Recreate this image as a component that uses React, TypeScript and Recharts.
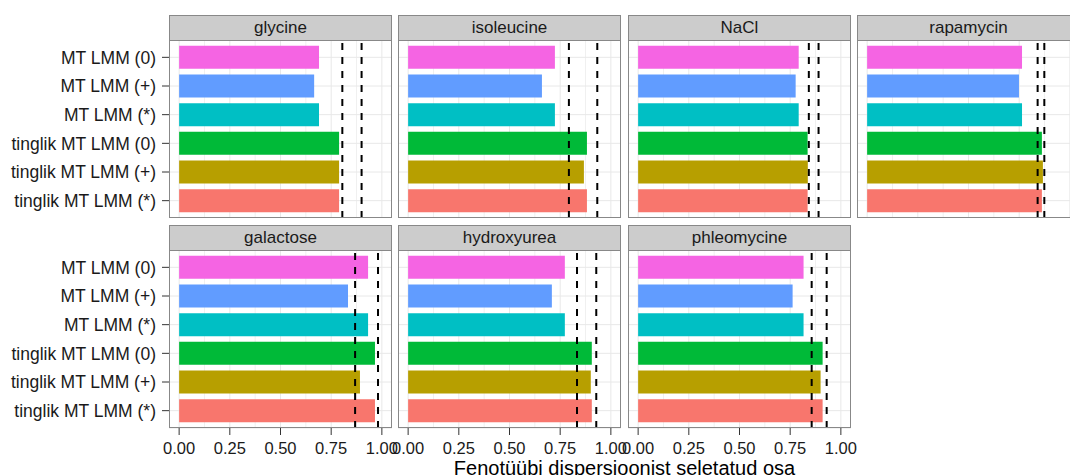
import React from "react";
import { BarChart, Bar, XAxis, YAxis, CartesianGrid, ReferenceLine, Cell } from "recharts";

// model names, top to bottom as drawn in each panel
const models = [
  "MT LMM (0)",
  "MT LMM (+)",
  "MT LMM (*)",
  "tinglik MT LMM (0)",
  "tinglik MT LMM (+)",
  "tinglik MT LMM (*)",
];

// explained share of phenotype variance, same order as models
const glycine = [0.69, 0.666, 0.69, 0.789, 0.789, 0.789];
const isoleucine = [0.724, 0.66, 0.724, 0.882, 0.867, 0.882];
const nacl = [0.792, 0.777, 0.792, 0.836, 0.837, 0.836];
const rapamycin = [0.764, 0.749, 0.764, 0.862, 0.867, 0.862];
const galactose = [0.932, 0.833, 0.932, 0.966, 0.892, 0.966];
const hydroxyurea = [0.773, 0.709, 0.773, 0.906, 0.901, 0.906];
const phleomycine = [0.816, 0.762, 0.816, 0.91, 0.9, 0.91];

// dashed reference levels per condition
const glycineCuts = [0.805, 0.9];
const isoleucineCuts = [0.793, 0.933];
const naclCuts = [0.842, 0.89];
const rapamycinCuts = [0.841, 0.874];
const galactoseCuts = [0.868, 0.981];
const hydroxyureaCuts = [0.833, 0.928];
const phleomycineCuts = [0.856, 0.93];

const xTicks = [0, 0.25, 0.5, 0.75, 1];
const xMinorTicks = [0.125, 0.375, 0.625, 0.875];

const barColors = ["#F564E3", "#619CFF", "#00BFC4", "#00BA38", "#B79F00", "#F8766D"];

const FONT = '"Liberation Sans", Arial, Helvetica, sans-serif';
const PANEL_W = 223;
const PANEL_H = 178;
const STRIP_H = 25;
const Y_AXIS_W = 169;
const colLeft = [169, 398, 628, 857];
const rowTop = [15, 225];

const facets = [
  { name: "glycine", values: glycine, cuts: glycineCuts },
  { name: "isoleucine", values: isoleucine, cuts: isoleucineCuts },
  { name: "NaCl", values: nacl, cuts: naclCuts },
  { name: "rapamycin", values: rapamycin, cuts: rapamycinCuts },
  { name: "galactose", values: galactose, cuts: galactoseCuts },
  { name: "hydroxyurea", values: hydroxyurea, cuts: hydroxyureaCuts },
  { name: "phleomycine", values: phleomycine, cuts: phleomycineCuts },
];

interface PanelProps {
  name: string;
  values: number[];
  cuts: number[];
  col: number;
  row: number;
  showY: boolean;
  showX: boolean;
}

function Panel({ name, values, cuts, col, row, showY, showX }: PanelProps) {
  const data = models.map((m, i) => ({ model: m, value: values[i] }));
  // room for tick labels that hang over the panel edges
  const extraRight = showX ? 22 : 0;
  const extraLeft = showX && !showY ? 22 : 0;
  const leftW = showY ? Y_AXIS_W : extraLeft;
  const chartLeft = colLeft[col] - leftW;
  const chartW = PANEL_W + leftW + extraRight;
  const chartH = PANEL_H + (showX ? 32 : 0);
  const top = rowTop[row];

  return (
    <>
      {/* strip */}
      <div
        style={{
          position: "absolute",
          left: colLeft[col],
          top,
          width: PANEL_W,
          height: STRIP_H + 1,
          boxSizing: "border-box",
          background: "#CCCCCC",
          border: "1px solid #888888",
          display: "flex",
          alignItems: "center",
          justifyContent: "center",
          fontSize: 17,
          color: "#1A1A1A",
        }}
      >
        {name}
      </div>

      <div style={{ position: "absolute", left: chartLeft, top: top + STRIP_H }}>
        <BarChart
          width={chartW}
          height={chartH}
          data={data}
          layout="vertical"
          margin={{ top: 0, right: extraRight, bottom: 0, left: extraLeft }}
          barCategoryGap="10%"
        >
          <CartesianGrid horizontal={false} verticalValues={xMinorTicks} stroke="#F0F0F0" strokeWidth={1} />
          <CartesianGrid vertical={false} stroke="#E8E8E8" strokeWidth={1} />
          <CartesianGrid horizontal={false} verticalValues={xTicks} stroke="#E8E8E8" strokeWidth={1} />
          <XAxis
            type="number"
            domain={[-0.05, 1.05]}
            allowDataOverflow
            ticks={xTicks}
            interval={0}
            tickFormatter={(v: number) => v.toFixed(2)}
            hide={!showX}
            height={32}
            axisLine={false}
            tickLine={{ stroke: "#333333" }}
            tickSize={7}
            tickMargin={7}
            tick={{ fontSize: 16.5, fill: "#1A1A1A", fontFamily: FONT }}
          />
          <YAxis
            type="category"
            dataKey="model"
            hide={!showY}
            width={Y_AXIS_W}
            padding={{ top: 3, bottom: 3 }}
            interval={0}
            axisLine={false}
            tickLine={{ stroke: "#333333" }}
            tickSize={7}
            tickMargin={6}
            tick={{ fontSize: 17.5, fill: "#1A1A1A", fontFamily: FONT }}
          />
          <Bar dataKey="value" isAnimationActive={false}>
            {data.map((d, i) => (
              <Cell key={d.model} fill={barColors[i]} />
            ))}
          </Bar>
          {cuts.map((c) => (
            <ReferenceLine
              key={c}
              x={c}
              stroke="#000000"
              strokeWidth={2}
              strokeDasharray="7 7"
            />
          ))}
        </BarChart>
      </div>

      {/* panel border */}
      <div
        style={{
          position: "absolute",
          left: colLeft[col],
          top: top + STRIP_H,
          width: PANEL_W,
          height: PANEL_H,
          boxSizing: "border-box",
          border: "1px solid #888888",
          pointerEvents: "none",
        }}
      />
    </>
  );
}

export default function App() {
  return (
    <div
      style={{
        position: "absolute",
        left: 0,
        top: 0,
        width: 1070,
        height: 475,
        overflow: "hidden",
        background: "#FFFFFF",
        fontFamily: FONT,
      }}
    >
      {facets.map((f, i) => {
        const row = i < 4 ? 0 : 1;
        const col = i < 4 ? i : i - 4;
        return (
          <Panel
            key={f.name}
            name={f.name}
            values={f.values}
            cuts={f.cuts}
            col={col}
            row={row}
            showY={col === 0}
            showX={row === 1}
          />
        );
      })}
      <div
        style={{
          position: "absolute",
          left: 169,
          width: 911,
          top: 457.5,
          lineHeight: "20px",
          fontSize: 20,
          textAlign: "center",
          color: "#000000",
          whiteSpace: "nowrap",
        }}
      >
        Fenotüübi dispersioonist seletatud osa
      </div>
    </div>
  );
}
